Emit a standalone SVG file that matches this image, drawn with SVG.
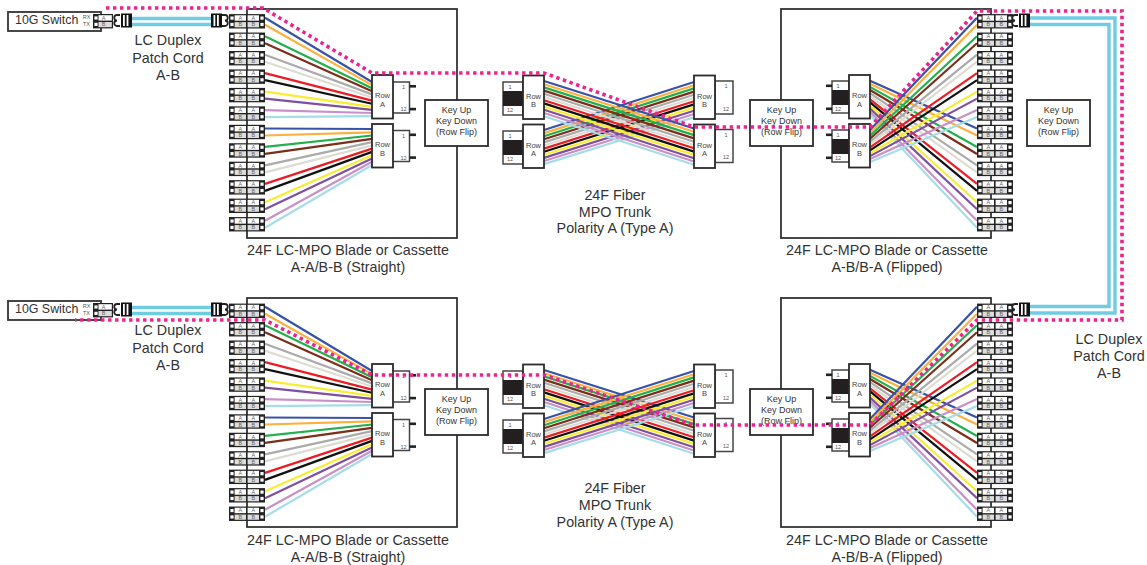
<svg xmlns="http://www.w3.org/2000/svg" xmlns:xlink="http://www.w3.org/1999/xlink" width="1147" height="565" viewBox="0 0 1147 565">
<style>
text{font-family:"Liberation Sans",Arial,sans-serif;fill:#333;text-anchor:middle}
.lbl{font-size:14.3px}.key{font-size:9px}.row{font-size:7.5px;fill:#444}.pin{font-size:5.5px;fill:#555}.ab{font-size:5.5px;fill:#666}
.sw{font-size:12.4px;text-anchor:start}
.box{fill:none;stroke:#333;stroke-width:1.8}
.w{fill:#fff;stroke:#2b2b2b;stroke-width:1.8}
.side{fill:#fff;stroke:#444;stroke-width:1.5}
.f{fill:none;stroke-width:2.2}
.c0{stroke:#3953a4}.c1{stroke:#fbb040}.c2{stroke:#21b04b}.c3{stroke:#7b2e1a}.c4{stroke:#ababab}.c5{stroke:#dcdcd2}.c6{stroke:#ed1c24}.c7{stroke:#111}.c8{stroke:#f9ed32}.c9{stroke:#7f4fa0}.c10{stroke:#c990c8}.c11{stroke:#a5dde8}
.cable{fill:none;stroke:#6fcde3;stroke-width:3.4}
.pink{fill:none;stroke:#ec2390;stroke-width:3.6;stroke-dasharray:3.4 3.6}
</style>
<defs>
<g id="adapter">
<rect x="-18" y="-7.2" width="36" height="14.4" fill="#222"/>
<rect x="-16.6" y="-4.8" width="3.2" height="3.2" fill="#fff"/><rect x="-16.6" y="1.6" width="3.2" height="3.2" fill="#fff"/>
<rect x="13.4" y="-4.8" width="3.2" height="3.2" fill="#fff"/><rect x="13.4" y="1.6" width="3.2" height="3.2" fill="#fff"/>
<rect x="-12.4" y="-6" width="11.4" height="5.4" fill="#fff"/><rect x="-12.4" y="0.8" width="11.4" height="5.2" fill="#ddd"/>
<rect x="0.6" y="-6" width="11.4" height="5.4" fill="#fff"/><rect x="0.6" y="0.8" width="11.4" height="5.2" fill="#ddd"/>
<text class="ab" x="-6.7" y="-1.4">A</text><text class="ab" x="-6.7" y="5.2">B</text>
<text class="ab" x="6.3" y="-1.4">A</text><text class="ab" x="6.3" y="5.2">B</text>
</g>
<g id="adapters">
<use href="#adapter" y="21.3"/><use href="#adapter" y="39.75"/><use href="#adapter" y="58.2"/><use href="#adapter" y="76.65"/><use href="#adapter" y="95.1"/><use href="#adapter" y="113.55"/><use href="#adapter" y="132"/><use href="#adapter" y="150.45"/><use href="#adapter" y="168.9"/><use href="#adapter" y="187.35"/><use href="#adapter" y="205.8"/><use href="#adapter" y="224.25"/>
</g>
<g id="lcL">
<rect x="121" y="13.5" width="11" height="14" fill="#111"/>
<rect x="123" y="15" width="1.8" height="11" fill="#fff"/><rect x="126.6" y="15" width="1.8" height="11" fill="#fff"/>
<path d="M120 15h-3a1.8 1.8 0 0 0 0 5.5a1.8 1.8 0 0 0 0 5.5h3" fill="#fff" stroke="#222" stroke-width="1.8"/>
</g>
<g id="lcR">
<rect x="211" y="13.5" width="11" height="14" fill="#111"/>
<rect x="213.5" y="15" width="1.8" height="11" fill="#fff"/><rect x="217" y="15" width="1.8" height="11" fill="#fff"/>
<path d="M222 15h3a1.8 1.8 0 0 1 0 5.5a1.8 1.8 0 0 1 0 5.5h-3" fill="#fff" stroke="#222" stroke-width="1.8"/>
</g>
<g id="switch">
<rect class="box" x="8" y="12" width="93" height="19" style="fill:#fff"/>
<text class="sw" x="15" y="24">10G Switch</text>
<text class="pin" x="86.5" y="19">RX</text><text class="pin" x="86.5" y="26">TX</text>
<rect x="93" y="14" width="20" height="14.4" fill="#222"/>
<rect x="94.4" y="16.4" width="3.2" height="3.2" fill="#fff"/><rect x="94.4" y="22.8" width="3.2" height="3.2" fill="#fff"/>
<rect x="98.5" y="15.2" width="13.3" height="5.4" fill="#fff"/><rect x="98.5" y="22" width="13.3" height="5.2" fill="#ddd"/>
<text class="ab" x="103.5" y="19.8">A</text><text class="ab" x="103.5" y="26.4">B</text>
</g>
<g id="key"><rect class="w" x="0" y="0" width="63" height="46"/>
<text class="key" x="31.5" y="13">Key Up</text><text class="key" x="31.5" y="23.5">Key Down</text><text class="key" x="31.5" y="34.5">(Row Flip)</text></g>
<g id="rowA"><rect class="w" x="0" y="0" width="21" height="43.5"/><text class="row" x="10.5" y="23">Row</text><text class="row" x="10.5" y="31.5">A</text></g>
<g id="rowB"><rect class="w" x="0" y="0" width="21" height="43.5"/><text class="row" x="10.5" y="23">Row</text><text class="row" x="10.5" y="31.5">B</text></g>
<g id="sideOut"><path class="side" d="M0 0h16.5v31h-16.5"/><rect x="16.5" y="3" width="6.5" height="2.6" fill="#222"/><rect x="16.5" y="25.8" width="6.5" height="2.6" fill="#222"/>
<text class="pin" x="10.5" y="7">1</text><text class="pin" x="10.5" y="29">12</text></g>
<g id="sideEnd"><rect class="side" x="0" y="0" width="18" height="33"/><text class="pin" x="11" y="7">1</text><text class="pin" x="11" y="29.5">12</text></g>
<g id="sideBlack"><rect class="side" x="0" y="0" width="20" height="33"/><rect x="0" y="9" width="20" height="15" fill="#231f20"/><text class="pin" x="7" y="6.5">1</text><text class="pin" x="7" y="30">12</text></g>
<g id="sideIn"><rect class="side" x="0" y="0" width="17" height="32"/><rect x="0" y="9" width="17" height="15" fill="#231f20"/><rect x="-6" y="3.5" width="6" height="2.6" fill="#222"/><rect x="-6" y="26.5" width="6" height="2.6" fill="#222"/><text class="pin" x="6" y="6.5">1</text><text class="pin" x="6" y="30">12</text></g>

<g id="fanL" class="f">
<path class="c0" d="M265 17.8L372 82M265 128.5L372 129"/>
<path class="c1" d="M265 24.8L372 85.1M265 135.5L372 132.3"/>
<path class="c2" d="M265 36.25L372 88.2M265 146.95L372 135.5"/>
<path class="c3" d="M265 43.25L372 91.3M265 153.95L372 138.8"/>
<path class="c4" d="M265 54.7L372 94.4M265 165.4L372 142.1"/>
<path class="c5" d="M265 61.7L372 97.5M265 172.4L372 145.4"/>
<path class="c6" d="M265 73.15L372 100.6M265 183.85L372 148.6"/>
<path class="c7" d="M265 80.15L372 103.7M265 190.85L372 151.9"/>
<path class="c8" d="M265 91.6L372 106.8M265 202.3L372 155.2"/>
<path class="c9" d="M265 98.6L372 109.9M265 209.3L372 158.4"/>
<path class="c10" d="M265 110.05L372 113M265 220.75L372 161.7"/>
<path class="c11" d="M265 117.05L372 116.1M265 227.75L372 165"/>
</g>
<g id="trunkUp" class="f">
<path class="c0" d="M544 130L694 82"/><path class="c1" d="M544 133.1L694 85.2"/><path class="c2" d="M544 136.2L694 88.4"/><path class="c3" d="M544 139.3L694 91.6"/><path class="c4" d="M544 142.4L694 94.8"/><path class="c5" d="M544 145.5L694 98"/><path class="c6" d="M544 148.6L694 101.2"/><path class="c7" d="M544 151.7L694 104.4"/><path class="c8" d="M544 154.8L694 107.6"/><path class="c9" d="M544 157.9L694 110.8"/><path class="c10" d="M544 161L694 114"/><path class="c11" d="M544 164.1L694 117.2"/>
</g>
<g id="trunkDown" class="f">
<path class="c0" d="M544 81L694 128.5"/><path class="c1" d="M544 84.2L694 131.8"/><path class="c2" d="M544 87.4L694 135.1"/><path class="c3" d="M544 90.6L694 138.4"/><path class="c4" d="M544 93.8L694 141.7"/><path class="c5" d="M544 97L694 145"/><path class="c6" d="M544 100.2L694 148.3"/><path class="c7" d="M544 103.4L694 151.6"/><path class="c8" d="M544 106.6L694 154.9"/><path class="c9" d="M544 109.8L694 158.2"/><path class="c10" d="M544 113L694 161.5"/><path class="c11" d="M544 116.2L694 164.8"/>
</g>
<g id="fanRA" class="f">
<path class="c0" d="M870 80.7L977 128.5"/><path class="c1" d="M870 83.8L977 135.5"/><path class="c2" d="M870 86.9L977 146.95"/><path class="c3" d="M870 90L977 153.95"/><path class="c4" d="M870 93.1L977 165.4"/><path class="c5" d="M870 96.2L977 172.4"/><path class="c6" d="M870 99.3L977 183.85"/><path class="c7" d="M870 102.4L977 190.85"/><path class="c8" d="M870 105.5L977 202.3"/><path class="c9" d="M870 108.6L977 209.3"/><path class="c10" d="M870 111.7L977 220.75"/><path class="c11" d="M870 114.8L977 227.75"/>
</g>
<g id="fanRB" class="f">
<path class="c0" d="M870 130L977 17.8"/><path class="c1" d="M870 132.9L977 24.8"/><path class="c2" d="M870 135.8L977 36.25"/><path class="c3" d="M870 138.7L977 43.25"/><path class="c4" d="M870 141.6L977 54.7"/><path class="c5" d="M870 144.5L977 61.7"/><path class="c6" d="M870 147.4L977 73.15"/><path class="c7" d="M870 150.3L977 80.15"/><path class="c8" d="M870 153.2L977 91.6"/><path class="c9" d="M870 156.1L977 98.6"/><path class="c10" d="M870 159L977 110.05"/><path class="c11" d="M870 162L977 117.05"/>
</g>
</defs>
<rect width="1147" height="565" fill="#fff"/>

<g id="connectors">
<g id="fibers-top">
<use href="#fanL"/><use href="#trunkUp"/><use href="#trunkDown"/><use href="#fanRA"/><use href="#fanRB"/>
</g>
<g id="fibers-bottom" transform="translate(0 289)">
<use href="#fanL"/><use href="#trunkDown"/><use href="#trunkUp"/><use href="#fanRA"/><use href="#fanRB"/>
</g>
<g id="patch-cords">
<path class="cable" d="M132 18.5H211M132 24.5H211"/>
<path class="cable" d="M132 307.5H211M132 313.5H211"/>
<path class="cable" d="M1030 18H1115V313H1030M1030 24.5H1109V306.5H1030"/>
</g>
</g>

<g id="blade-top-left"><rect class="box" x="247" y="9" width="210" height="229"/><g transform="translate(247 0)"><use href="#adapters"/></g></g>
<g id="blade-top-right"><rect class="box" x="781" y="9" width="210" height="229"/><g transform="translate(995 0)"><use href="#adapters"/></g></g>
<g id="blade-bottom-left"><rect class="box" x="247" y="298" width="210" height="229"/><g transform="translate(247 289.5)"><use href="#adapters"/></g></g>
<g id="blade-bottom-right"><rect class="box" x="781" y="298" width="210" height="229"/><g transform="translate(995 289.5)"><use href="#adapters"/></g></g>

<g id="switch-top"><use href="#switch"/></g>
<g id="switch-bottom"><use href="#switch" y="289"/></g>
<g id="plugs">
<use href="#lcL"/><use href="#lcR"/><use href="#lcL" y="289"/><use href="#lcR" y="289"/>
<g transform="translate(898 0)"><use href="#lcL"/></g>
<g transform="translate(898 289)"><use href="#lcL"/></g>
</g>

<g id="top-left-rows">
<use href="#sideOut" x="393" y="82"/><use href="#sideOut" x="393" y="130.5"/>
<use href="#rowA" x="372" y="75"/><use href="#rowB" x="372" y="124"/>
</g>
<g id="bottom-left-rows" transform="translate(0 289)">
<use href="#sideOut" x="393" y="82"/><use href="#sideOut" x="393" y="130.5"/>
<use href="#rowA" x="372" y="75"/><use href="#rowB" x="372" y="124"/>
</g>
<g id="top-trunk">
<use href="#sideBlack" x="503" y="82"/><use href="#sideBlack" x="503" y="131"/>
<use href="#rowB" x="523" y="75.5"/><use href="#rowA" x="523" y="124.5"/>
<use href="#sideEnd" x="715" y="81"/><use href="#sideEnd" x="715" y="129.5"/>
<use href="#rowB" x="694" y="75.5"/><use href="#rowA" x="694" y="124.5"/>
</g>
<g id="bottom-trunk" transform="translate(0 289)">
<use href="#sideBlack" x="503" y="82"/><use href="#sideBlack" x="503" y="131"/>
<use href="#rowB" x="523" y="75.5"/><use href="#rowA" x="523" y="124.5"/>
<use href="#sideEnd" x="715" y="81"/><use href="#sideEnd" x="715" y="129.5"/>
<use href="#rowB" x="694" y="75.5"/><use href="#rowA" x="694" y="124.5"/>
</g>
<g id="top-right-rows">
<use href="#sideIn" x="832" y="81"/><use href="#sideIn" x="832" y="130"/>
<use href="#rowA" x="849" y="75"/><use href="#rowB" x="849" y="124"/>
</g>
<g id="bottom-right-rows" transform="translate(0 289)">
<use href="#sideIn" x="832" y="81"/><use href="#sideIn" x="832" y="130"/>
<use href="#rowA" x="849" y="75"/><use href="#rowB" x="849" y="124"/>
</g>
<g id="key-1"><use href="#key" x="425" y="100"/></g>
<g id="key-2"><use href="#key" x="750" y="100"/></g>
<g id="key-3"><use href="#key" x="1027" y="100"/></g>
<g id="key-4"><use href="#key" x="425" y="389"/></g>
<g id="key-5"><use href="#key" x="750" y="389"/></g>

<g id="labels">
<text class="lbl" x="168" y="45">LC Duplex</text><text class="lbl" x="168" y="63">Patch Cord</text><text class="lbl" x="168" y="80">A-B</text>
<text class="lbl" x="168" y="335">LC Duplex</text><text class="lbl" x="168" y="353">Patch Cord</text><text class="lbl" x="168" y="370">A-B</text>
<text class="lbl" x="1109" y="344">LC Duplex</text><text class="lbl" x="1109" y="361">Patch Cord</text><text class="lbl" x="1109" y="378">A-B</text>
<text class="lbl" x="348" y="255">24F LC-MPO Blade or Cassette</text><text class="lbl" x="348" y="272">A-A/B-B (Straight)</text>
<text class="lbl" x="887" y="255">24F LC-MPO Blade or Cassette</text><text class="lbl" x="887" y="272">A-B/B-A (Flipped)</text>
<text class="lbl" x="348" y="545">24F LC-MPO Blade or Cassette</text><text class="lbl" x="348" y="562">A-A/B-B (Straight)</text>
<text class="lbl" x="887" y="545">24F LC-MPO Blade or Cassette</text><text class="lbl" x="887" y="562">A-B/B-A (Flipped)</text>
<text class="lbl" x="615" y="200">24F Fiber</text><text class="lbl" x="615" y="217">MPO Trunk</text><text class="lbl" x="615" y="233">Polarity A (Type A)</text>
<text class="lbl" x="615" y="493">24F Fiber</text><text class="lbl" x="615" y="510">MPO Trunk</text><text class="lbl" x="615" y="527">Polarity A (Type A)</text>
</g>

<g id="polarity-path">
<path class="pink" d="M106 8H263L372 73H544L694 127H870L977 11H1122V320H977L870 425H694L544 375H372L265 320H75"/>
</g>
</svg>
